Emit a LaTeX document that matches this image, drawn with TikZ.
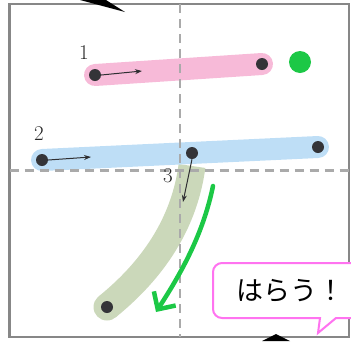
\documentclass[tikz,border=0pt]{standalone}
\usepackage{fontspec}
\newfontfamily\jpfont{Noto Sans CJK JP}
\usetikzlibrary{arrows.meta}
\definecolor{framegray}{RGB}{135,135,135}
\definecolor{gridgray}{RGB}{170,170,170}
\definecolor{pinkstroke}{RGB}{247,186,216}
\definecolor{bluestroke}{RGB}{190,222,246}
\definecolor{sagestroke}{RGB}{203,216,186}
\definecolor{dotgray}{RGB}{52,52,56}
\definecolor{brightgreen}{RGB}{28,200,70}
\definecolor{calloutpink}{RGB}{255,115,240}
\tikzset{
  dotnode/.style={circle,fill=dotgray,inner sep=0pt,minimum size=12pt},
  strokeline/.style={line width=22pt,line cap=round},
  dirarrow/.style={-{Stealth[length=7pt,width=5pt]},line width=1pt,draw=dotgray!90!black},
  gridline/.style={draw=gridgray,line width=2.2pt,dash pattern=on 9pt off 6pt},
  numlabel/.style={font=\fontsize{21}{21}\selectfont,text=black!85,inner sep=0pt}
}
\begin{document}
\begin{tikzpicture}[x=1pt,y=-1pt]
\useasboundingbox (0,0) rectangle (351,341);
\clip (0,0) rectangle (351,341);
% frame
\draw[framegray,line width=2.6pt] (9.5,4) rectangle (349,337);
% stroke coordinates
\coordinate (a1) at (95,75);
\coordinate (b1) at (262,64);
\coordinate (a2) at (42,160);
\coordinate (b2) at (318,147);
\coordinate (a3) at (192,166);
\coordinate (b3) at (107,307);
% strokes
\draw[strokeline,pinkstroke] (a1) -- (b1);
\draw[line width=27pt,sagestroke,line cap=butt] (a3) .. controls (186,210) and (165,260) .. (b3);
\fill[sagestroke] (b3) circle (13.5pt);
\draw[strokeline,bluestroke] (a2) -- (b2);
% guide lines
\coordinate (vt) at (180,4);
\coordinate (vb) at (180,337);
\coordinate (hl) at (9.5,170.5);
\coordinate (hr) at (349,170.5);
\draw[gridline] (vt) -- (vb);
\draw[gridline] (hl) -- (hr);
% dots
\node[dotnode] (d1) at (a1) {};
\node[dotnode] (e1) at (b1) {};
\node[dotnode] (d2) at (a2) {};
\node[dotnode] (e2) at (b2) {};
\node[dotnode] (d3) at (192,153) {};
\node[dotnode] (e3) at (b3) {};
\node[circle,fill=brightgreen,inner sep=0pt,minimum size=22pt] (g) at (300,62) {};
% direction arrows
\coordinate (t1) at (142,71);
\coordinate (t2) at (91,157);
\coordinate (t3) at (183,202);
\draw[dirarrow] (d1.east) -- (t1);
\draw[dirarrow] (d2.east) -- (t2);
\draw[dirarrow] (d3.south) -- (t3);
% labels
\node[numlabel] (n1) at (84,53) {1};
\node[numlabel] (n2) at (39,134) {2};
\node[numlabel] (n3) at (168,176) {3};
% green arrow
\coordinate (gs) at (213,186);
\coordinate (ge) at (156,312);
\draw[brightgreen,line width=4.5pt,line cap=round,-{Straight Barb[length=13pt,width=26pt,line width=4.5pt]}] (gs) .. controls (203,235) and (180,275) .. (ge);
% callout
\draw[calloutpink,line width=2pt,fill=white]
  (360,263) [rounded corners=9pt] -- (213,263) -- (213,318) -- (300,318) [sharp corners] -- (320,318) -- (318,333) -- (336,318) -- (360,318);
\node[font=\jpfont\fontsize{27}{27}\selectfont,inner sep=0pt] (t) at (290,291) {はらう！};
% partial black shapes at edges
\fill[black] (80,0) -- (106,0) -- (125,12) -- cycle;
\fill[black] (262,341) -- (276,334) -- (290,341) -- cycle;
\end{tikzpicture}
\end{document}
